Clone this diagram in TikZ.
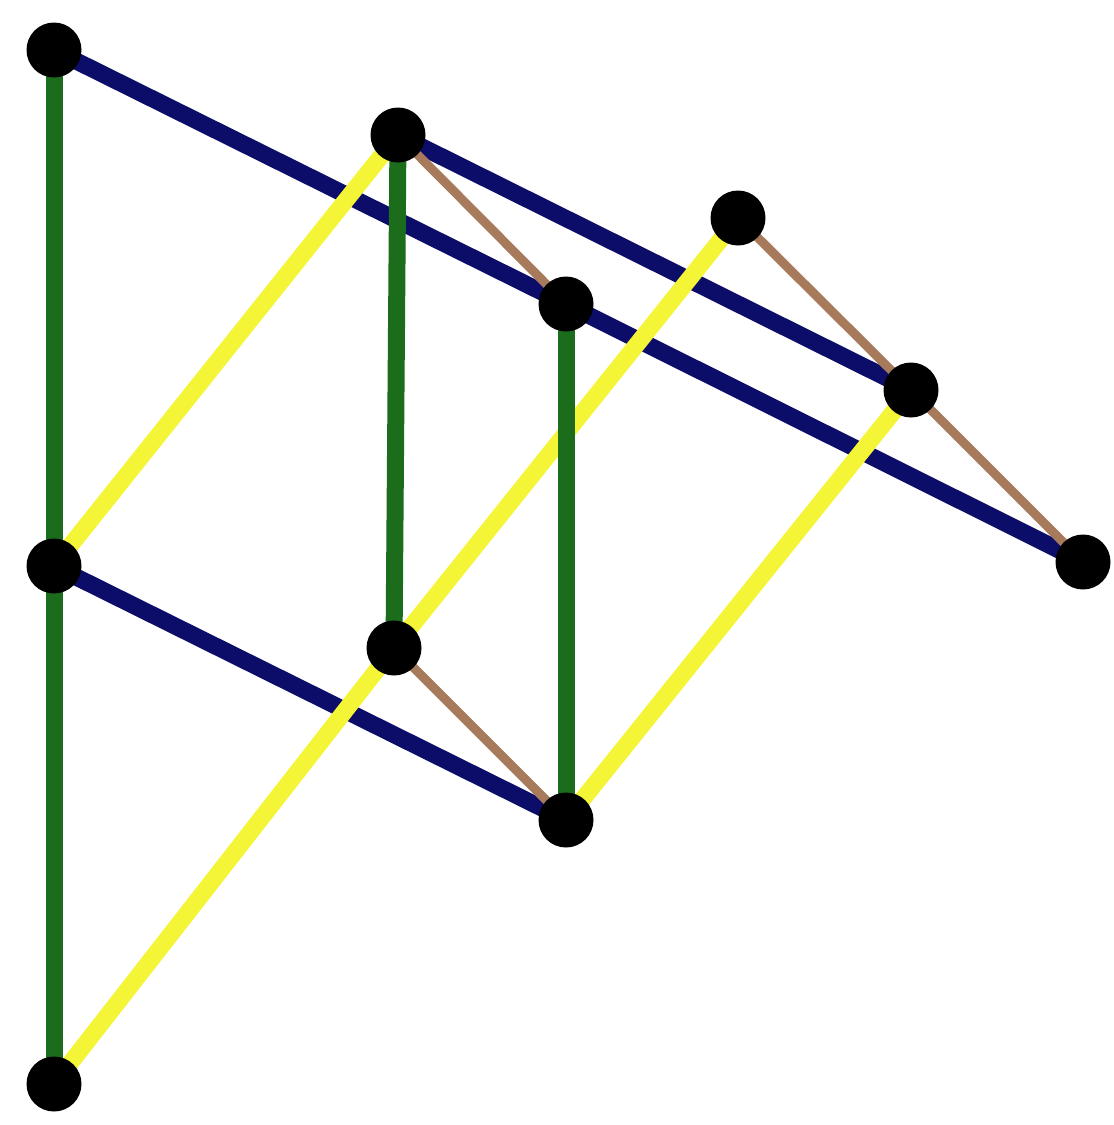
\documentclass[tikz,border=0pt]{standalone}
\definecolor{navyc}{RGB}{12,12,105}
\definecolor{greenc}{RGB}{27,108,27}
\definecolor{yellowc}{RGB}{245,245,55}
\definecolor{brownc}{RGB}{168,122,92}
\begin{document}
\begin{tikzpicture}[x=1pt,y=-1pt,
  dot/.style={circle,fill=black,inner sep=0pt,minimum size=55pt},
  navyline/.style={draw=navyc,line width=17pt},
  greenline/.style={draw=greenc,line width=17pt},
  yellowline/.style={draw=yellowc,line width=17pt},
  brownline/.style={draw=brownc,line width=9pt}]
\useasboundingbox (0,0) rectangle (1114,1125);
\fill[white] (0,0) rectangle (1114,1125);
% node positions
\coordinate (pA) at (54,50);
\coordinate (pB) at (398,135);
\coordinate (pC) at (738,218);
\coordinate (pD) at (566,304);
\coordinate (pE) at (911,390);
\coordinate (pF) at (1083,562);
\coordinate (pG) at (54,566);
\coordinate (pH) at (394,648);
\coordinate (pI) at (566,820);
\coordinate (pJ) at (54,1084);
% navy lines
\draw[navyline] (pA) -- (pD);
\draw[navyline] (pD) -- (pF);
\draw[navyline] (pB) -- (pE);
\draw[navyline] (pG) -- (pI);
% yellow lines
\draw[yellowline] (pG) -- (pB);
\draw[yellowline] (pJ) -- (pH);
\draw[yellowline] (pH) -- (pC);
\draw[yellowline] (pI) -- (pE);
% green lines
\draw[greenline] (pA) -- (pG);
\draw[greenline] (pG) -- (pJ);
\draw[greenline] (pB) -- (pH);
\draw[greenline] (pD) -- (pI);
% brown lines
\draw[brownline] (pB) -- (pD);
\draw[brownline] (pH) -- (pI);
\draw[brownline] (pC) -- (pE);
\draw[brownline] (pE) -- (pF);
% nodes
\foreach \n in {A,B,C,D,E,F,G,H,I,J}
  \node[dot] (\n) at (p\n) {};
\end{tikzpicture}
\end{document}
